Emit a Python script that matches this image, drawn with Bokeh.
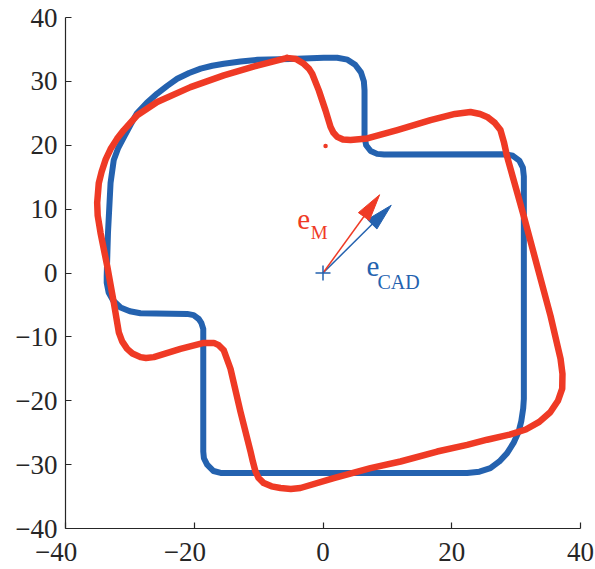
import math

from bokeh.core.properties import value
from bokeh.embed import file_html
from bokeh.models import FixedTicker, Range1d
from bokeh.plotting import figure
from bokeh.resources import INLINE

# CAD outline (x, y in mm), traced clockwise from the top edge
cad_x = [-10.2, -5.05, 0.12, 2.2, 3.8, 5.0, 5.9, 6.35, 6.45, 6.45, 6.7, 7.4, 8.4, 9.5,
         28.1, 29.5, 30.5, 31.05, 31.2, 31.2, 31.1, 30.8, 30.4, 29.6, 28.6, 27.4, 26.0,
         24.3, 22.4, -15.9, -17.0, -18.0, -18.5, -18.6, -18.6, -18.9, -19.3, -20.1,
         -21.1, -28.35, -30.0, -31.45, -32.6, -33.3, -33.6, -33.6, -33.4, -33.0, -32.5,
         -31.8, -30.9, -29.9, -28.9, -27.4, -25.75, -24.2, -22.65, -20.8, -19.0, -17.2,
         -15.4, -12.8, -10.2]
cad_y = [33.37, 33.5, 33.7, 33.7, 33.4, 32.6, 31.4, 30.0, 28.6, 21.3, 20.0, 19.1, 18.65,
         18.55, 18.6, 18.35, 17.6, 16.5, 15.1, -19.7, -21.2, -23.2, -24.8, -26.6, -28.2,
         -29.5, -30.55, -31.1, -31.3, -31.3, -31.0, -30.0, -29.0, -27.95, -8.76, -7.8,
         -7.2, -6.6, -6.4, -6.3, -6.0, -5.4, -4.3, -3.05, -1.5, -0.47, 6.3, 14.1, 17.7,
         19.6, 21.3, 23.2, 25.0, 26.6, 28.1, 29.3, 30.4, 31.3, 32.0, 32.45, 32.75, 33.1,
         33.37]

# Measured outline (x, y in mm)
meas_x = [-5.56, -4.2, -2.98, -2.2, -1.68, -0.65, 0.39, 1.17, 1.6, 2.21, 3.1, 4.27, 6.87,
          11.53, 16.7, 20.5, 22.9, 24.4, 25.5, 26.7, 27.57, 28.1, 28.6, 29.6, 31.2, 33.27,
          35.34, 36.9, 37.2, 37.16, 36.5, 35.3, 33.6, 31.5, 29.0, 25.5, 22.4, 17.74,
          12.04, 7.38, 1.68, -3.5, -5.0, -6.6, -8.0, -9.2, -10.0, -10.49, -10.9, -11.26,
          -12.82, -14.37, -15.41, -16.2, -16.96, -18.52, -22.14, -26.28, -27.5, -28.35,
          -29.6, -30.42, -31.2, -31.72, -32.5, -33.52, -34.56, -35.0, -35.08, -34.83,
          -34.4, -33.79, -33.0, -32.0, -30.94, -28.86, -25.76, -20.58, -15.41, -10.22,
          -5.56]
meas_y = [33.68, 33.5, 32.75, 32.0, 31.19, 28.59, 25.46, 22.88, 22.0, 21.32, 20.9, 20.81,
          21.07, 22.37, 23.93, 24.9, 25.21, 24.9, 24.44, 23.5, 22.37, 20.5, 18.2, 14.6,
          8.87, 1.09, -6.69, -13.43, -15.8, -18.1, -20.0, -21.8, -23.3, -24.5, -25.3,
          -26.1, -26.9, -27.95, -29.51, -30.55, -32.1, -33.66, -33.8, -33.66, -33.4,
          -32.89, -32.1, -31.07, -29.5, -27.95, -21.73, -14.99, -12.1, -11.3, -10.94,
          -10.94, -11.88, -13.17, -13.3, -13.17, -12.6, -11.88, -10.7, -9.28, -4.61,
          1.09, 6.29, 9.0, 11.0, 14.07, 15.8, 17.7, 19.4, 21.0, 22.37, 24.7, 26.77, 29.1,
          30.93, 32.48, 33.68]

# Single measured point
dot_x = [0.4]
dot_y = [19.9]

# Orientation vectors drawn from the origin
e_m = (8.8, 12.25)
e_cad = (10.6, 10.6)

ticks = [-40, -20, 0, 20, 40]
yticks = [-40, -30, -20, -10, 0, 10, 20, 30, 40]

BLUE = "#2462AF"
RED = "#EF3A25"
INK = "#262626"
SERIF = "Liberation Serif"


def minus_label(v):
    s = str(abs(v))
    return ("\u2212" + s) if v < 0 else s


p = figure(width=595, height=569, x_range=Range1d(-40, 40), y_range=Range1d(-40, 40),
           output_backend="svg", toolbar_location=None,
           min_border_left=65, min_border_right=15, min_border_top=17,
           min_border_bottom=38)
p.xgrid.visible = False
p.ygrid.visible = False
p.outline_line_color = None
p.background_fill_color = "white"
p.border_fill_color = "white"

for ax, tk in ((p.xaxis[0], ticks), (p.yaxis[0], yticks)):
    ax.ticker = FixedTicker(ticks=tk)
    ax.major_tick_in = 6
    ax.major_tick_out = 0
    ax.minor_tick_in = 0
    ax.minor_tick_out = 0
    ax.axis_line_color = INK
    ax.axis_line_width = 1.2
    ax.major_tick_line_color = INK
    ax.major_tick_line_width = 1.2
    ax.major_label_text_font = SERIF
    ax.major_label_text_font_size = "27px"
    ax.major_label_text_color = INK
    ax.major_label_standoff = 8

# negative x labels sit slightly left of their ticks
p.xaxis[0].major_label_overrides = {
    float(v): (minus_label(v) + "\u2007\u2009" if v < 0 else minus_label(v)) for v in ticks
}
p.yaxis[0].major_label_overrides = {float(v): minus_label(v) for v in yticks}

p.line(cad_x, cad_y, line_color=BLUE, line_width=6, line_join="round", line_cap="round")
p.line(meas_x, meas_y, line_color=RED, line_width=6.5, line_join="round",
       line_cap="round")
p.scatter(dot_x, dot_y, size=4.5, color=RED, line_color=None)


def arrow(vec, color, head_len=4.2, half_w=1.05):
    vx, vy = vec
    n = math.hypot(vx, vy)
    ux, uy = vx / n, vy / n
    px, py = -uy, ux
    bx, by = vx - ux * head_len, vy - uy * head_len
    p.line([0, bx + ux * 0.5], [0, by + uy * 0.5], line_color=color, line_width=1.5)
    p.patch([vx, bx + px * half_w, bx - px * half_w],
            [vy, by + py * half_w, by - py * half_w],
            fill_color=color, line_color=color, line_width=1)


arrow(e_cad, BLUE)
arrow(e_m, RED)
p.scatter([0], [0], marker="cross", size=15, line_color=BLUE, line_width=1.5)

# vector labels with subscripts
def label(x, y, txt, color, size):
    p.text([x], [y], text=[txt], text_font=value(SERIF), text_font_size=size,
           text_color=color, text_align="left", text_baseline="alphabetic")


label(-4.0, 8.4, "e", RED, "29px")
label(-1.9, 6.3, "M", RED, "19px")
label(6.76, 1.04, "e", BLUE, "29px")
label(8.47, -1.45, "CAD", BLUE, "20px")

open("out.html", "w").write(file_html(p, INLINE))
